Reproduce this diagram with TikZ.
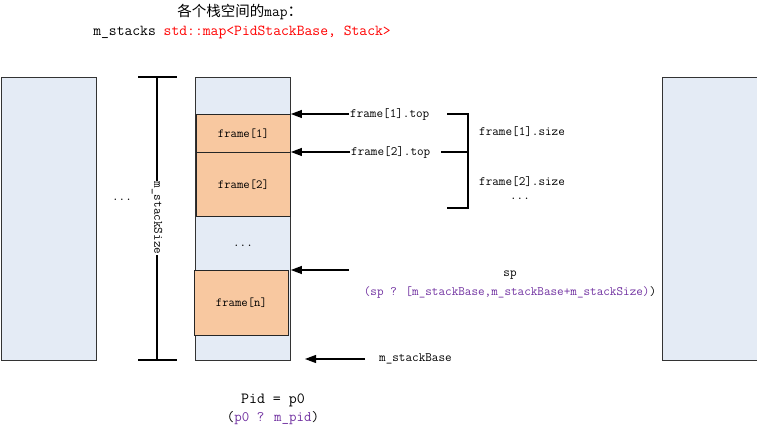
\documentclass[tikz,border=0pt]{standalone}
\usepackage{fontspec}
\newfontfamily\cjk{Noto Sans CJK SC}
\usetikzlibrary{arrows.meta}
\definecolor{boxblue}{HTML}{E4EBF5}
\definecolor{frameorange}{HTML}{F8C8A0}
\definecolor{purp}{HTML}{7030A0}
\tikzset{
  stackbox/.style={draw=black!80, fill=boxblue, line width=0.9pt, anchor=north west, inner sep=0pt},
  framebox/.style={draw=black!85, fill=frameorange, line width=0.9pt, anchor=north west, inner sep=0pt, font=\ttfamily\fontsize{12.4}{14}\selectfont},
  lbl/.style={font=\ttfamily\fontsize{12.8}{14}\selectfont, inner sep=1pt},
  arr/.style={line width=1.1pt, -{Triangle[length=11pt,width=8pt]}},
  bline/.style={line width=1.1pt}
}
\begin{document}
\begin{tikzpicture}[x=1pt,y=-1pt]
\useasboundingbox (0,0) rectangle (757,430);
% title
\node (title) at (240,12) {\cjk\fontsize{14.5}{16}\selectfont 各个栈空间的\ttfamily\fontsize{15}{16}\selectfont map\cjk：};
\node (mstacks) at (242,32) {\ttfamily\fontsize{15.2}{17}\selectfont m\_stacks \textcolor{red}{std::map<PidStackBase, Stack>}};
% stacks
\node[stackbox, minimum width=95pt, minimum height=283pt] (left) at (0.5,77) {};
\node[stackbox, minimum width=95pt, minimum height=283pt] (stack) at (195,77) {};
\node[stackbox, minimum width=95pt, minimum height=283pt] (right) at (662,77) {};
% frames
\node[framebox, minimum width=94pt, minimum height=38pt] (f1) at (196,114) {frame[1]};
\node[framebox, minimum width=94pt, minimum height=64pt] (f2) at (196,152) {frame[2]};
\node[framebox, minimum width=94pt, minimum height=65pt] (fn) at (194,270) {frame[n]};
\node[lbl] (dotsin) at (243,246) {...};
\node[lbl] (dotsleft) at (122,200) {...};
% dimension m_stackSize
\coordinate (dt) at (157,77);
\coordinate (db) at (157,360);
\draw[bline] (dt) -- (db);
\draw[bline] (138,77) -- (177,77);
\draw[bline] (138,360) -- (177,360);
\node[lbl, rotate=-90, fill=white, inner sep=1pt] (size) at (157,218) {m\_stackSize};
% arrows and labels
\node[lbl, anchor=west] (f1t) at (349,114) {frame[1].top};
\node[lbl, anchor=west] (f2t) at (350,152) {frame[2].top};
\draw[arr] (f1t.west) -- (f1.north east);
\draw[arr] (f2t.west) -- (f2.north east);
\coordinate (spstart) at (349,270);
\draw[arr] (spstart) -- (stack.east |- spstart);
\node[lbl] (sp) at (510,275) {sp};
\node[lbl] (sprange) at (510,292) {\textcolor{purp}{(sp ? [m\_stackBase,m\_stackBase+m\_stackSize)}{})};
\coordinate (mbstart) at (365,359);
\coordinate (mbend) at (305,359);
\draw[arr] (mbstart) -- (mbend);
\node[lbl, anchor=west] (mb) at (378,359) {m\_stackBase};
% bracket
\draw[bline] (447,114) -- (468,114) -- (468,208) -- (447,208);
\draw[bline] (441,152) -- (468,152);
\node[lbl, anchor=west] (f1s) at (478,132) {frame[1].size};
\node[lbl, anchor=west] (f2s) at (478,182) {frame[2].size};
\node[lbl] (dotsr) at (520,199) {...};
% bottom
\node (pid) at (273,400) {\ttfamily\fontsize{15.5}{17}\selectfont Pid = p0};
\node (pidr) at (273,418) {\ttfamily\fontsize{14.5}{16}\selectfont (\textcolor{purp}{p0 ? m\_pid})};
\end{tikzpicture}
\end{document}
